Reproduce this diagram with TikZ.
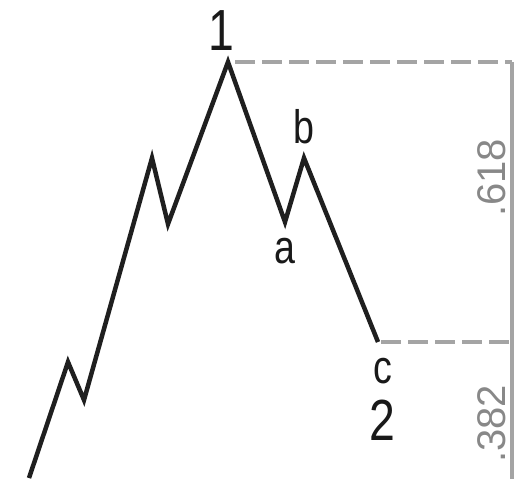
\documentclass[tikz,border=0pt]{standalone}
\usepackage{fontspec}
\setmainfont{Liberation Sans}
\usetikzlibrary{positioning}
\definecolor{guidegray}{HTML}{A4A4A4}
\definecolor{ratiogray}{HTML}{888888}

\begin{document}
\begin{tikzpicture}[
  x=1pt, y=-1pt,
  wave/.style={draw=black!88, line width=4.5pt},
  guide/.style={draw=guidegray, line width=3.6pt, dash pattern=on 20pt off 7pt},
  rail/.style={draw=guidegray, line width=3.2pt},
  big/.style={font=\fontsize{58}{58}\selectfont, inner sep=0pt, anchor=base, text=black!90},
  small/.style={big, font=\fontsize{47}{47}\selectfont},
  ratio/.style={font=\fontsize{40}{40}\selectfont, text=ratiogray, rotate=90, inner sep=0pt}
]
\useasboundingbox (0,0) rectangle (517,479);

% wave points
\coordinate (w0) at ( 29,478);
\coordinate (w1) at ( 68,362);
\coordinate (w2) at ( 84,400);
\coordinate (w3) at (152,158);
\coordinate (w4) at (168,224);
\coordinate (top) at (228,62);
\coordinate (wa) at (285,222);
\coordinate (wb) at (304,158);
\coordinate (wc) at (378,342);

% right rail
\coordinate (railtop) at (512,62);
\coordinate (railmid) at (512,342);
\coordinate (railbot) at (512,479);

\draw[guide] ([xshift=7pt]top) -- (railtop);
\draw[guide] ([xshift=3pt]wc) -- (railmid);
\draw[rail] (railtop) -- (railbot);

\draw[wave] (w0) -- (w1) -- (w2) -- (w3) -- (w4) -- (top) -- (wa) -- (wb) -- (wc);

% labels
\node[big]   (lone) at (221,50)  {\scalebox{0.8}[1]{1}};
\node[small] (lb)   at (304,143) {\scalebox{0.8}[1]{b}};
\node[small] (la)   at (285,263) {\scalebox{0.8}[1]{a}};
\node[small] (lc)   at (383,383) {\scalebox{0.8}[1]{c}};
\node[big]   (ltwo) at (382,440) {\scalebox{0.8}[1]{2}};
\node[ratio] (rup)  at (492,178) {.618};
\node[ratio] (rlow) at (492,424) {.382};
\end{tikzpicture}
\end{document}
